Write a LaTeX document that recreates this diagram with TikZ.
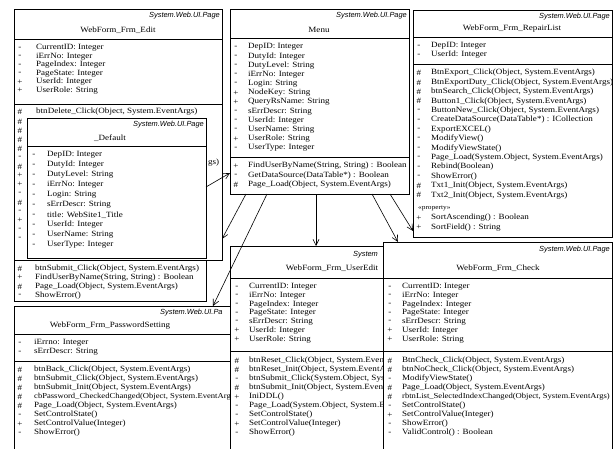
\documentclass[tikz,border=0pt]{standalone}
\usepackage{fontspec}
\setmainfont{Liberation Serif}[FakeStretch=1.13]
\newfontfamily\hdrfont{Liberation Sans}
\usetikzlibrary{arrows.meta,calc}
% #1 marker x, #2 text x, #3 first y, #4 step, #5 list, #6 name prefix
\newcommand\rowlist[6]{\foreach \mm/\rtext [count=\ii from 0] in {#5}{%
  \node[mk] (#6m\ii) at (#1,{#3+\ii*#4}) {\mm};
  \node[tx] (#6t\ii) at (#2,{#3+\ii*#4}) {\rtext};}}
\newcommand\marklist[5]{\foreach \mm [count=\ii from 0] in {#4}{%
  \node[mk] (#5\ii) at (#1,{#2+\ii*#3}) {\mm};}}
\begin{document}
\begin{tikzpicture}[x=1pt,y=-1pt,
  box/.style={draw=black,fill=white,line width=0.7pt,anchor=north west,inner sep=0pt,outer sep=0pt},
  tx/.style={anchor=west,inner sep=0pt,font=\fontsize{8}{9}\selectfont},
  mk/.style={anchor=center,inner sep=0pt,font=\fontsize{8}{9}\selectfont},
  hd/.style={anchor=east,inner sep=0pt,font=\hdrfont\itshape\fontsize{7.4}{9}\selectfont},
  nm/.style={anchor=center,inner sep=0pt,font=\fontsize{8}{9}\selectfont},
  sepline/.style={line width=0.7pt},
  dep/.style={line width=0.6pt,-{Straight Barb[length=6pt,width=6pt]}}]
\useasboundingbox (0,0) rectangle (616,448);
\clip (0,0) rectangle (616,448);
\fill[white] (0,0) rectangle (616,448);

% ---------------- WebForm_Frm_Edit
\node[box,minimum width=208pt,minimum height=251pt] (E) at (14,9) {};
\begin{scope}
\clip (E.north west) rectangle (E.south east);
\node[hd] (Eh) at (220,16) {System.Web.UI.Page};
\node[nm] (En) at (118,30) {WebForm\_Frm\_Edit};
\draw[sepline] (14,39) -- (222,39);
\rowlist{20}{36}{48}{8.5}{-/CurrentID: Integer, -/iErrNo: Integer, -/PageIndex: Integer, -/PageState: Integer, +/UserId: Integer, +/UserRole: String}{Ea}
\draw[sepline] (14,104) -- (222,104);
\node[mk] (Em0) at (20,112) {\#};
\node[tx] (Et0) at (36,112) {btnDelete\_Click(Object, System.EventArgs)};
\marklist{20}{121.5}{9}{\#,\#,\#,\#,-,\#,+,+,-,\#,-,+,-,-}{Ek}
\node[tx] (Eg) at (208,163) {gs)};
\end{scope}

% ---------------- _Default
\node[box,minimum width=179pt,minimum height=140pt] (D) at (27,118) {};
\begin{scope}
\clip (D.north west) rectangle (D.south east);
\node[hd] (Dh) at (204,125) {System.Web.UI.Page};
\node[nm] (Dn) at (110,138) {\_Default};
\draw[sepline] (27,146) -- (206,146);
\rowlist{34}{47}{155}{10}{-/DepID: Integer, -/DutyId: Integer, -/DutyLevel: String, -/iErrNo: Integer, -/Login: String, -/sErrDescr: String, -/title: WebSite1\_Title, -/UserId: Integer, -/UserName: String, -/UserType: Integer}{Da}
\end{scope}
\node[box,minimum width=192pt,minimum height=41pt] (DM) at (14,260) {};
\begin{scope}
\clip (DM.north west) rectangle (DM.south east);
\rowlist{20}{35}{268.5}{9}{\#/{btnSubmit\_Click(Object, System.EventArgs)}, +/{FindUserByName(String, String) : Boolean}, \#/{Page\_Load(Object, System.EventArgs)}, -/ShowError()}{Dm}
\end{scope}

% ---------------- Menu
\node[box,minimum width=179pt,minimum height=185pt] (M) at (230,9) {};
\begin{scope}
\clip (M.north west) rectangle (M.south east);
\node[hd] (Mh) at (407,16) {System.Web.UI.Page};
\node[nm] (Mn) at (319,30) {Menu};
\draw[sepline] (230,38) -- (409,38);
\rowlist{236}{248}{47}{9.2}{-/DepID: Integer, -/DutyId: Integer, -/DutyLevel: String, -/iErrNo: Integer, -/Login: String, +/NodeKey: String, +/QueryRsName: String, -/sErrDescr: String, -/UserId: Integer, -/UserName: String, +/UserRole: String, -/UserType: Integer}{Ma}
\draw[sepline] (230,157) -- (409,157);
\rowlist{236}{248}{166}{9.5}{+/{FindUserByName(String, String) : Boolean}, -/{GetDataSource(DataTable*) : Boolean}, \#/{Page\_Load(Object, System.EventArgs)}}{Mm}
\end{scope}

% ---------------- WebForm_Frm_RepairList
\node[box,minimum width=199pt,minimum height=227pt] (R) at (413,10) {};
\begin{scope}
\clip (R.north west) rectangle (R.south east);
\node[hd] (Rh) at (610,17) {System.Web.UI.Page};
\node[nm] (Rn) at (512,29) {WebForm\_Frm\_RepairList};
\draw[sepline] (413,37) -- (612,37);
\rowlist{419}{431}{46}{9}{-/DepID: Integer, -/UserId: Integer}{Ra}
\draw[sepline] (413,64) -- (612,64);
\rowlist{419}{431}{73}{9.4}{\#/{BtnExport\_Click(Object, System.EventArgs)}, \#/{BtnExportDuty\_Click(Object, System.EventArgs)}, \#/{btnSearch\_Click(Object, System.EventArgs)}, \#/{Button1\_Click(Object, System.EventArgs)}, -/{ButtonNew\_Click(Object, System.EventArgs)}, -/{CreateDataSource(DataTable*) : ICollection}, -/ExportEXCEL(), -/ModifyView(), -/ModifyViewState(), -/{Page\_Load(System.Object, System.EventArgs)}, -/Rebind(Boolean), -/ShowError(), \#/{Txt1\_Init(Object, System.EventArgs)}, \#/{Txt2\_Init(Object, System.EventArgs)}}{Rm}
\node[tx,font=\fontsize{6.5}{8}\selectfont] (Rs) at (418,208) {«property»};
\rowlist{419}{431}{218}{9.3}{+/{SortAscending() : Boolean}, +/{SortField() : String}}{Rp}
\end{scope}

% ---------------- WebForm_Frm_PasswordSetting
\node[box,minimum width=226pt,minimum height=150pt] (P) at (14,306) {};
\begin{scope}
\clip (P.north west) rectangle (P.south east);
\node[hd,anchor=west] (Ph) at (160,313) {System.Web.UI.Pa};
\node[nm] (Pn) at (110,326) {WebForm\_Frm\_PasswordSetting};
\draw[sepline] (14,334) -- (240,334);
\rowlist{20}{34}{343}{9}{-/iErrno: Integer, -/sErrDescr: String}{Pa}
\draw[sepline] (14,361) -- (240,361);
\rowlist{20}{34}{370}{9}{\#/{btnBack\_Click(Object, System.EventArgs)}, \#/{btnSubmit\_Click(Object, System.EventArgs)}, \#/{btnSubmit\_Init(Object, System.EventArgs)}, \#/{\fontsize{7.6}{9}\selectfont cbPassword\_CheckedChanged(Object, System.EventArg}, \#/{Page\_Load(Object, System.EventArgs)}, -/SetControlState(), +/SetControlValue(Integer), -/ShowError()}{Pm}
\end{scope}

% ---------------- WebForm_Frm_UserEdit
\node[box,minimum width=204pt,minimum height=210pt] (U) at (230,246) {};
\begin{scope}
\clip (U.north west) rectangle (U.south east);
\node[hd,anchor=west] (Uh) at (353,255) {System};
\node[nm] (Un) at (332,268) {WebForm\_Frm\_UserEdit};
\draw[sepline] (230,278) -- (434,278);
\rowlist{237}{249}{287}{8.7}{-/CurrentID: Integer, -/iErrNo: Integer, -/PageIndex: Integer, -/PageState: Integer, -/sErrDescr: String, +/UserId: Integer, +/UserRole: String}{Ua}
\draw[sepline] (230,351) -- (434,351);
\rowlist{237}{249}{361}{9}{\#/{btnReset\_Click(Object, System.Event}, \#/{btnReset\_Init(Object, System.EventA}, -/{btnSubmit\_Click(System.Object, Syst}, \#/{btnSubmit\_Init(Object, System.Event}, +/IniDDL(), -/{Page\_Load(System.Object, System.E}, -/SetControlState(), +/SetControlValue(Integer), -/ShowError()}{Um}
\end{scope}

% ---------------- WebForm_Frm_Check
\node[box,minimum width=229pt,minimum height=215pt] (C) at (383,242) {};
\begin{scope}
\clip (C.north west) rectangle (C.south east);
\node[hd] (Ch) at (610,250) {System.Web.UI.Page};
\node[nm] (Cn) at (498,268) {WebForm\_Frm\_Check};
\draw[sepline] (383,278) -- (612,278);
\rowlist{390}{402}{287}{8.7}{-/CurrentID: Integer, -/iErrNo: Integer, -/PageIndex: Integer, -/PageState: Integer, -/sErrDescr: String, +/UserId: Integer, +/UserRole: String}{Ca}
\draw[sepline] (383,351) -- (612,351);
\rowlist{390}{402}{361}{9}{\#/{BtnCheck\_Click(Object, System.EventArgs)}, \#/{btnNoCheck\_Click(Object, System.EventArgs)}, -/ModifyViewState(), \#/{Page\_Load(Object, System.EventArgs)}, \#/{\fontsize{7.6}{9}\selectfont rbtnList\_SelectedIndexChanged(Object, System.EventArgs)}, -/SetControlState(), +/SetControlValue(Integer), -/ShowError(), -/{ValidControl() : Boolean}}{Cm}
\end{scope}

% ---------------- dependencies
\draw[dep] (D.east |- 0,187) -- (M.west |- 0,173);
\draw[dep] (M.south -| 246,0) -- (E.east |- 0,239);
\draw[dep] (M.south -| 267,0) -- (P.north -| 213,0);
\draw[dep] (M.south -| 316,0) -- (U.north -| 316,0);
\draw[dep] (M.south -| 372,0) -- (C.north -| 398,0);
\draw[dep] (M.south -| 390,0) -- (R.west |- 0,231);
\end{tikzpicture}
\end{document}
